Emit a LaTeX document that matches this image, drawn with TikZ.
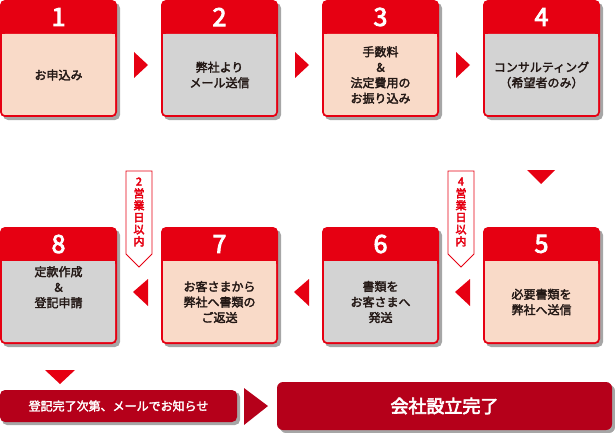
\documentclass[tikz,border=0pt]{standalone}
\usepackage{fontspec}
\setmainfont{Noto Sans CJK JP}
\newfontfamily\jpb{Noto Sans CJK JP}[FakeBold=2.5]
\newfontfamily\jpn{Noto Sans CJK JP}[FakeBold=3.5]
\definecolor{rd}{HTML}{E60012}
\definecolor{pch}{HTML}{F9DAC8}
\definecolor{gry}{HTML}{D3D3D3}
\definecolor{drd}{HTML}{B5001A}
\definecolor{txt}{HTML}{231815}
\begin{document}
\begin{tikzpicture}[x=1pt,y=-1pt,
  btxt/.style={font=\jpb\fontsize{12}{15.5}\selectfont,text=txt,align=center,inner sep=0pt},
  ntxt/.style={font=\jpn\fontsize{25}{25}\selectfont,text=white}]
\useasboundingbox (0,0) rectangle (615,433);
\newcommand{\stepbox}[5]{%
  \fill[gray!70,rounded corners=5pt] (#2+3,#3+3) rectangle (#2+120,#3+120);
  \fill[rd,rounded corners=5pt] (#2,#3) rectangle (#2+117,#3+117);
  \fill[#5,rounded corners=3pt] (#2+2,#3+34) rectangle (#2+115,#3+115);
  \fill[#5] (#2+2,#3+34) rectangle (#2+115,#3+40);
  \node[ntxt] (#1n) at (#2+58.5,#3+17) {#4};
  \coordinate (#1) at (#2+58.5,#3+75);
}
\stepbox{b1}{0}{0}{1}{pch}
\stepbox{b2}{161}{0}{2}{gry}
\stepbox{b3}{322}{0}{3}{pch}
\stepbox{b4}{483}{0}{4}{gry}
\stepbox{b5}{483}{227}{5}{pch}
\stepbox{b6}{322}{227}{6}{gry}
\stepbox{b7}{161}{227}{7}{pch}
\stepbox{b8}{0}{227}{8}{gry}
\node[btxt] (t1) at (b1) {お申込み};
\node[btxt] (t2) at (b2) {弊社より\\メール送信};
\node[btxt] (t3) at (b3) {手数料\\＆\\法定費用の\\お振り込み};
\node[btxt] (t4) at (b4) {コンサルティング\\（希望者のみ）};
\node[btxt] (t5) at (b5) {必要書類を\\弊社へ送信};
\node[btxt] (t6) at (b6) {書類を\\お客さまへ\\発送};
\node[btxt] (t7) at (b7) {お客さまから\\弊社へ書類の\\ご返送};
\node[btxt,anchor=north] (t8) at (58.5,266) {定款作成\\＆\\登記申請};
\foreach \x in {134,295,456}{\fill[rd] (\x,52) -- (\x+14,65) -- (\x,78) -- cycle;}
\fill[rd] (527,170) -- (555,170) -- (541,184) -- cycle;
\foreach \x in {148,309,470}{\fill[rd] (\x,279) -- (\x-15,292) -- (\x,306) -- cycle;}
\foreach \x/\n in {448/4,126/2}{
  \draw[rd,fill=white,line width=0.8pt] (\x,171) -- (\x+26,171) -- (\x+26,254) -- (\x+13,267) -- (\x,254) -- cycle;
  \node[font=\jpn\fontsize{11}{12}\selectfont,text=rd,align=center,inner sep=0pt] at (\x+13,212) {\n\\営\\業\\日\\以\\内};
}
\fill[rd] (45,370) -- (75,370) -- (60,384) -- cycle;
\fill[gray!70,rounded corners=5pt] (2,392) rectangle (240,425);
\fill[drd,rounded corners=5pt] (0,390) rectangle (237,422);
\node[font=\jpb\fontsize{12}{14}\selectfont,text=white] (mail) at (118.5,406) {登記完了次第、メールでお知らせ};
\fill[drd] (244,388) -- (268,406) -- (244,425) -- cycle;
\fill[gray!70,rounded corners=6pt] (280,385) rectangle (615,433);
\fill[drd,rounded corners=6pt] (277,382) rectangle (612,430);
\node[font=\jpn\fontsize{18}{20}\selectfont,text=white] (done) at (444.5,406) {会社設立完了};
\end{tikzpicture}
\end{document}
